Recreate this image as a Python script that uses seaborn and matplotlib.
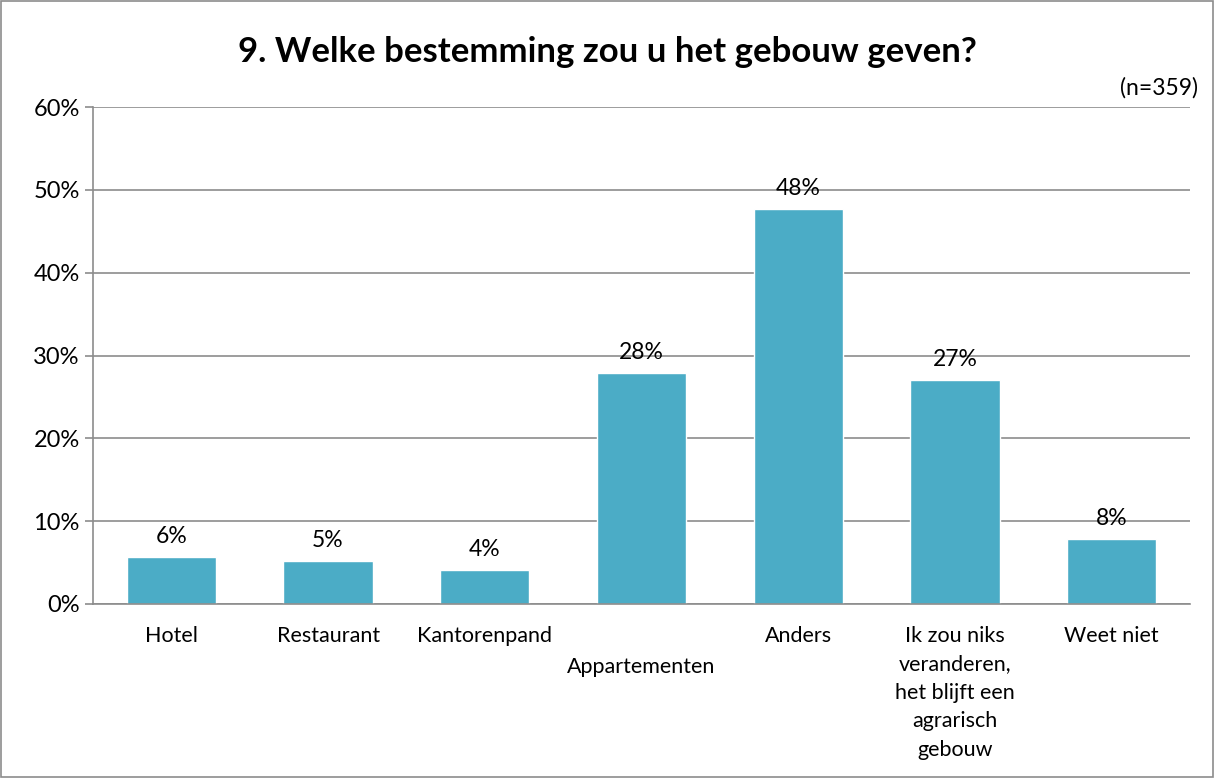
import numpy as np
import pandas as pd
import seaborn as sns
import matplotlib.pyplot as plt

categories = ["Hotel", "Restaurant", "Kantorenpand", "Appartementen", "Anders",
              "Ik zou niks\nveranderen,\nhet blijft een\nagrarisch\ngebouw", "Weet niet"]
values = [5.7, 5.2, 4.1, 27.9, 47.7, 27.1, 7.9]
labels = ["6%", "5%", "4%", "28%", "48%", "27%", "8%"]

df = pd.DataFrame({"cat": categories, "val": values})

sns.set_style("white")
plt.rcParams['font.family'] = ['Lato', 'DejaVu Sans']
plt.rcParams['text.color'] = 'black'
plt.rcParams['ytick.labelcolor'] = 'black'

fig = plt.figure(figsize=(12.14, 7.78), dpi=100)
ax = fig.add_axes([93/1214, 1-604/778, (1190-93)/1214, (604-107)/778])

sns.barplot(data=df, x="cat", y="val", color="#4BACC6", width=0.57, saturation=1, ax=ax)

ax.set_ylim(0, 60)
ax.set_xlim(-0.5, 6.5)
ax.set_yticks(range(0, 61, 10))
ax.set_yticklabels([f"{t}%" for t in range(0, 61, 10)], fontsize=17, color="black")
ax.yaxis.grid(True, color="#8c8c8c", linewidth=1.2)
ax.set_axisbelow(True)
ax.set_xlabel("")
ax.set_ylabel("")

# category labels, Appartementen staggered down like excel
ax.set_xticks(range(7))
ax.set_xticklabels([])
ax.tick_params(axis="x", which="major", length=0)
ax.set_xticks(np.arange(-0.5, 7, 1), minor=True)
ax.tick_params(axis="x", which="minor", length=6, color="#8c8c8c", width=1.2, direction="out")
ax.tick_params(axis="y", length=6, color="#8c8c8c", width=1.2, direction="out", left=True)
for i, c in enumerate(categories):
    off = 38 if c == "Appartementen" else 16
    ax.annotate(c, (i, 0), xytext=(0, -off), textcoords="offset points", ha="center",
                va="top", fontsize=15.5, linespacing=1.52)

for i, (v, l) in enumerate(zip(values, labels)):
    ax.annotate(l, (i, v), xytext=(0, 7), textcoords="offset points", ha="center",
                va="bottom", fontsize=16.5)

for s in ["top", "right"]:
    ax.spines[s].set_visible(False)
for s in ["left", "bottom"]:
    ax.spines[s].set_color("#8c8c8c")
    ax.spines[s].set_linewidth(1.2)

fig.text(0.5, 1-52/778, "9. Welke bestemming zou u het gebouw geven?", ha="center",
         va="center", fontsize=25, fontweight="bold")
fig.text(1198/1214, 1-88/778, "(n=359)", ha="right", va="center", fontsize=16.5)

fig.patches.append(plt.Rectangle((0.001, 0.001), 0.998, 0.998, transform=fig.transFigure,
                                 fill=False, edgecolor="#8c8c8c", linewidth=1.2))

fig.savefig("out.png", dpi=100)
